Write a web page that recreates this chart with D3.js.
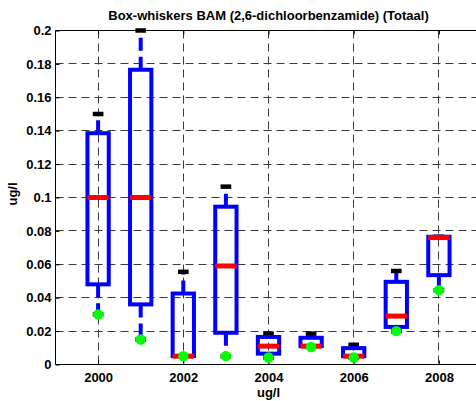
<!DOCTYPE html>
<html>
<head>
<meta charset="utf-8">
<script src="https://cdn.jsdelivr.net/npm/d3@7"></script>
<style>
  html, body { margin: 0; padding: 0; background: #fff; }
  svg { display: block; }
  text { font-family: "Liberation Sans", Arial, Helvetica, sans-serif; font-weight: bold; fill: #000; }
</style>
</head>
<body>
<div id="chart"></div>
<script>
// BAM (2,6-dichloorbenzamide) concentrations per year, ug/l
const years      = [2000, 2001, 2002, 2003, 2004, 2005, 2006, 2007, 2008];
const q1         = [0.048, 0.036, 0.005, 0.019, 0.0065, 0.011, 0.005, 0.0225, 0.0535];
const median     = [0.1, 0.1, 0.005, 0.059, 0.011, 0.011, 0.005, 0.029, 0.076];
const q3         = [0.1385, 0.1765, 0.0425, 0.0945, 0.0165, 0.016, 0.0098, 0.0495, 0.0765];
const whiskerHi  = [0.15, 0.2, 0.0555, 0.1065, 0.0185, 0.0185, 0.0118, 0.056, 0.0765];
const whiskerLo  = [0.03, 0.015, 0.005, 0.005, 0.0042, 0.0105, 0.0042, 0.02, 0.0445];
const minimum    = [0.03, 0.015, 0.005, 0.005, 0.0042, 0.0105, 0.0042, 0.02, 0.0445];

const xTicks      = [2000, 2002, 2004, 2006, 2008];
const yTicks      = [0, 0.02, 0.04, 0.06, 0.08, 0.1, 0.12, 0.14, 0.16, 0.18, 0.2];
const yTickLabels = ["0", "0.02", "0.04", "0.06", "0.08", "0.1", "0.12", "0.14", "0.16", "0.18", "0.2"];

const titleText = "Box-whiskers BAM (2,6-dichloorbenzamide) (Totaal)";
const xLabel = "ug/l";
const yLabel = "ug/l";

const W = 476, H = 401;
const plotLeft = 55.5, plotRight = 481.5, plotTop = 30.5, plotBottom = 364.5;

const x = d3.scaleLinear().domain([1999, 2009]).range([plotLeft, plotRight]);
const y = d3.scaleLinear().domain([0, 0.2]).range([plotBottom, plotTop]);

const svg = d3.select("#chart").append("svg")
  .attr("width", W).attr("height", H);

const crisp = v => Math.floor(v) + 0.5;

// dashed grid
const grid = svg.append("g").attr("stroke", "#3a3a3a").attr("stroke-width", 1)
  .attr("stroke-dasharray", "8,5");
grid.selectAll("line.v").data(xTicks).join("line").attr("class", "v")
  .attr("x1", d => crisp(x(d))).attr("x2", d => crisp(x(d)))
  .attr("y1", plotTop).attr("y2", plotBottom);
grid.selectAll("line.h").data(yTicks.filter(v => v > 0 && v < 0.2)).join("line").attr("class", "h")
  .attr("x1", plotLeft).attr("x2", plotRight)
  .attr("y1", d => crisp(y(d))).attr("y2", d => crisp(y(d)));

// axes with inward ticks
const fontSize = "13px";
const xAxis = svg.append("g").attr("transform", `translate(0,${plotBottom})`)
  .call(d3.axisBottom(x).tickValues(xTicks).tickFormat(d3.format("d"))
    .tickSizeInner(-4).tickSizeOuter(0).tickPadding(8));
const xAxisTop = svg.append("g").attr("transform", `translate(0,${plotTop})`)
  .call(d3.axisTop(x).tickValues(xTicks).tickFormat("")
    .tickSizeInner(-4).tickSizeOuter(0));
const yAxis = svg.append("g").attr("transform", `translate(${plotLeft},0)`)
  .call(d3.axisLeft(y).tickValues(yTicks).tickFormat((d, i) => yTickLabels[i])
    .tickSizeInner(-4).tickSizeOuter(0).tickPadding(4));
[xAxis, xAxisTop, yAxis].forEach(g => {
  g.select(".domain").remove();
  g.attr("font-family", null).attr("font-size", null);
  g.selectAll("text").style("font-size", fontSize);
  g.selectAll("line").attr("stroke", "#000");
});

// axis frame
svg.append("path")
  .attr("d", `M${plotRight},${plotTop}H${plotLeft}V${plotBottom}H${plotRight}`)
  .attr("fill", "none").attr("stroke", "#000").attr("stroke-width", 1);

// boxes
const halfBox = 0.25, halfCap = 0.125;
const boxes = svg.append("g");
years.forEach((yr, i) => {
  const cx = x(yr);
  const bw = x(yr + halfBox) - cx;
  const cw = x(yr + halfCap) - cx;
  const g = boxes.append("g");
  // whiskers
  g.append("line")
    .attr("x1", cx).attr("x2", cx).attr("y1", y(q3[i])).attr("y2", y(whiskerHi[i]))
    .attr("stroke", "#0000ff").attr("stroke-width", 4).attr("stroke-dasharray", "13,6");
  g.append("line")
    .attr("x1", cx).attr("x2", cx).attr("y1", y(q1[i])).attr("y2", y(whiskerLo[i]))
    .attr("stroke", "#0000ff").attr("stroke-width", 4).attr("stroke-dasharray", "13,6");
  // caps
  [whiskerHi[i], whiskerLo[i]].forEach(v => {
    g.append("line")
      .attr("x1", cx - cw).attr("x2", cx + cw).attr("y1", y(v)).attr("y2", y(v))
      .attr("stroke", "#000").attr("stroke-width", 4.5);
  });
  // box
  g.append("rect")
    .attr("x", cx - bw).attr("width", 2 * bw)
    .attr("y", y(q3[i])).attr("height", y(q1[i]) - y(q3[i]))
    .attr("fill", "none").attr("stroke", "#0000ff").attr("stroke-width", 4);
  // median
  g.append("line")
    .attr("x1", cx - bw).attr("x2", cx + bw).attr("y1", y(median[i])).attr("y2", y(median[i]))
    .attr("stroke", "#ff0000").attr("stroke-width", 5);
});

// minimum markers
svg.append("g").selectAll("circle").data(years).join("circle")
  .attr("cx", d => x(d)).attr("cy", (d, i) => y(minimum[i])).attr("r", 5.2)
  .attr("fill", "#00ff00");

// titles
svg.append("text").attr("x", (plotLeft + plotRight) / 2).attr("y", 20)
  .attr("text-anchor", "middle").style("font-size", fontSize).text(titleText);
svg.append("text").attr("x", (plotLeft + plotRight) / 2).attr("y", 397)
  .attr("text-anchor", "middle").style("font-size", fontSize).text(xLabel);
svg.append("text").attr("transform", `translate(17,194) rotate(-90)`)
  .attr("text-anchor", "middle").style("font-size", fontSize).text(yLabel);
</script>
</body>
</html>
